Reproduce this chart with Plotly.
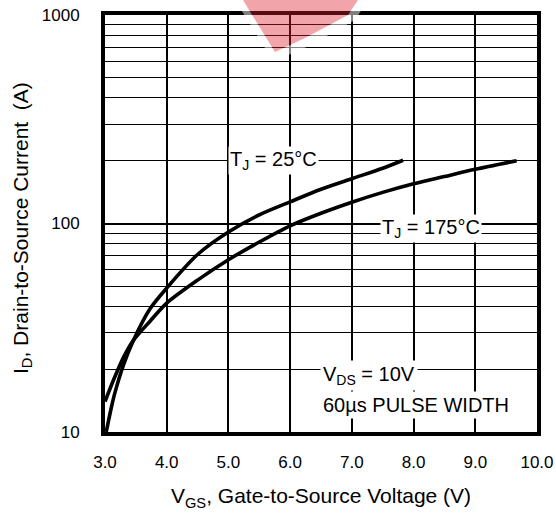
import math
import plotly.graph_objects as go

# ---- data ----
vgs_25 = [3.02, 3.1, 3.16, 3.3, 3.46, 3.73, 4.0, 4.5, 5.0, 5.5, 6.0, 6.5, 7.0, 7.5, 7.83]
id_25 = [10, 13, 15.4, 21, 27.5, 39, 49, 71, 91, 110, 127, 146, 164, 184, 201]

vgs_175 = [3.0, 3.16, 3.3, 3.46, 3.73, 4.0, 4.5, 5.0, 5.5, 6.0, 6.5, 7.0, 7.5, 8.0, 8.5, 9.0, 9.67]
id_175 = [14.0, 18.4, 22.8, 27.5, 34, 41.5, 53.5, 67, 81.5, 97.5, 112, 126.5, 141, 155, 168, 182, 200]

x_ticks = [3, 4, 5, 6, 7, 8, 9, 10]
x_ticktext = ["3.0", "4.0", "5.0", "6.0", "7.0", "8.0", "9.0", "10.0"]
y_ticks = [10, 100, 1000]
y_ticktext = ["10", "100", "1000"]
y_minor = [20, 30, 40, 50, 60, 70, 80, 90, 200, 300, 400, 500, 600, 700, 800, 900]

FONT = "Liberation Sans, Arial, Helvetica, sans-serif"

fig = go.Figure()
for xs, ys in [(vgs_25, id_25), (vgs_175, id_175)]:
    fig.add_trace(go.Scatter(x=xs, y=ys, mode="lines",
                             line=dict(color="black", width=3.6, shape="spline", smoothing=0.8),
                             showlegend=False, hoverinfo="skip"))

fig.update_xaxes(range=[3, 10], tickvals=x_ticks, ticktext=x_ticktext,
                 showgrid=True, gridcolor="black", gridwidth=2,
                 showline=True, mirror=True, linecolor="black", linewidth=4,
                 ticks="", ticklabelstandoff=12, ticklabeloverflow="allow", zeroline=False,
                 tickfont=dict(size=17, color="black", family=FONT),
                 title=dict(text="V<sub>GS</sub>, Gate-to-Source Voltage (V)",
                            font=dict(size=21, color="black", family=FONT), standoff=18))
fig.update_yaxes(type="log", range=[1, 3], tickvals=y_ticks, ticktext=y_ticktext,
                 showgrid=True, gridcolor="black", gridwidth=2,
                 minor=dict(tickvals=y_minor, showgrid=True, gridcolor="black", gridwidth=1.2, ticks=""),
                 showline=True, mirror=True, linecolor="black", linewidth=4,
                 ticks="", ticklabelstandoff=18, ticklabeloverflow="allow", zeroline=False,
                 tickfont=dict(size=17, color="black", family=FONT))

# ---- geometry of the plot area (pixels) ----
FW, FH = 556, 519
L, T, W, H = 105, 15, 432, 417

# y-axis title as a rotated annotation
fig.add_annotation(xref="paper", yref="paper", x=(22 - L) / W, y=(T + H - 228) / H,
                   text="I<sub>D</sub>, Drain-to-Source Current&nbsp; (A)", textangle=-90,
                   showarrow=False, xanchor="center", yanchor="middle",
                   font=dict(size=21, color="black", family=FONT))

# annotations on a log axis take log10 positions
ann_font = dict(size=20, color="black", family=FONT)
fig.add_annotation(x=5.0, y=math.log10(200), xref="x", yref="y", text="T<sub>J</sub> = 25°C",
                   showarrow=False, xanchor="left", yanchor="middle",
                   bgcolor="white", font=ann_font, borderpad=1)
fig.add_annotation(x=8.29, y=math.log10(95), xref="x", yref="y", text="T<sub>J</sub> = 175°C",
                   showarrow=False, xanchor="center", yanchor="middle",
                   bgcolor="white", font=ann_font, borderpad=1)
fig.add_annotation(x=6.48, y=math.log10(18.6), xref="x", yref="y", text="V<sub>DS</sub> = 10V",
                   showarrow=False, xanchor="left", yanchor="middle",
                   bgcolor="white", font=ann_font, borderpad=2)
fig.add_annotation(x=6.48, y=math.log10(13.5), xref="x", yref="y", text="60µs PULSE WIDTH",
                   showarrow=False, xanchor="left", yanchor="middle",
                   bgcolor="white", font=ann_font, borderpad=2)

# ---- faint watermark near the top (decorative, not data); coords are screen pixels ----
def px(xp, yp):
    return (xp - L) / W, (T + H - yp) / H
def poly(pts):
    s = ""
    for i, (a, b) in enumerate(pts):
        u, v = px(a, b)
        s += ("M" if i == 0 else "L") + f"{u:.4f},{v:.4f} "
    return s + "Z "
red_pts = [(243, 0), (358, 0), (348, 15), (305, 38), (275, 52)]
halo_pts = [(235, 0), (368, 0), (355, 20), (309, 46), (275, 61), (265, 48)]
fig.add_shape(type="path", xref="paper", yref="paper", path=poly(halo_pts) + poly(red_pts),
              fillcolor="rgba(255,255,255,0.5)", fillrule="evenodd",
              line=dict(width=0), layer="above")
fig.add_shape(type="path", xref="paper", yref="paper", path=poly(red_pts),
              fillcolor="rgba(220,30,45,0.4)", line=dict(width=0), layer="above")

fig.update_layout(width=FW, height=FH,
                  margin=dict(l=L, r=FW - L - W, t=T, b=FH - T - H, autoexpand=False),
                  paper_bgcolor="white", plot_bgcolor="white",
                  font=dict(family=FONT, color="black"))
fig.write_html("out.html", config={"displayModeBar": False},
               post_script="document.body.style.margin='0';document.body.style.overflow='hidden';")
